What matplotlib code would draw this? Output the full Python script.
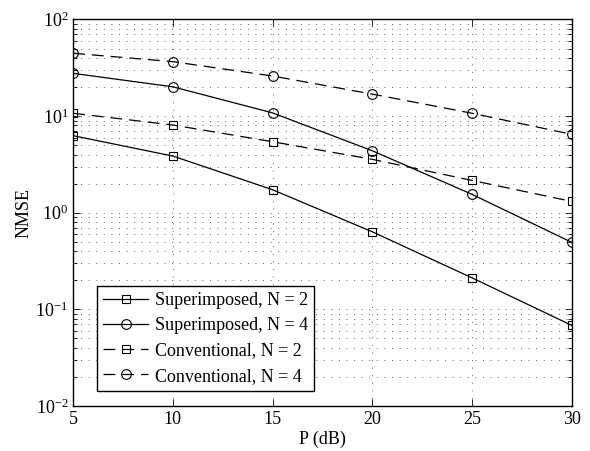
import matplotlib
matplotlib.use('Agg')
import matplotlib.pyplot as plt
import numpy as np

plt.rcParams['font.family'] = 'Liberation Serif'
plt.rcParams['mathtext.fontset'] = 'custom'
plt.rcParams['mathtext.rm'] = 'Liberation Serif'
plt.rcParams['mathtext.it'] = 'Liberation Serif:italic'

p_db = [5, 10, 15, 20, 25, 30]
sup_n2 = [6.27, 3.86, 1.73, 0.635, 0.212, 0.0683]
sup_n4 = [27.7, 20.1, 10.8, 4.38, 1.55, 0.494]
conv_n2 = [10.7, 8.09, 5.43, 3.57, 2.16, 1.31]
conv_n4 = [44.7, 36.6, 26.0, 16.9, 10.7, 6.48]

labels = ['Superimposed, N = 2', 'Superimposed, N = 4',
    'Conventional, N = 2', 'Conventional, N = 4']

fig = plt.figure(figsize=(5.9, 4.51), dpi=100)
ax = fig.add_axes([0.124, 0.0998, 0.845, 0.857])

dash = (0, (9.5, 5.5))
ax.semilogy(p_db, sup_n2, c='k', lw=0.9, marker='s', ms=6, mfc='none',
    mew=0.8, label=labels[0])
ax.semilogy(p_db, sup_n4, c='k', lw=0.9, marker='o', ms=7, mfc='none',
    mew=0.8, label=labels[1])
ax.semilogy(p_db, conv_n2, c='k', lw=0.9, ls=dash, marker='s', ms=6,
    mfc='none', mew=0.8, label=labels[2])
ax.semilogy(p_db, conv_n4, c='k', lw=0.9, ls=dash, marker='o', ms=7,
    mfc='none', mew=0.8, label=labels[3])

ax.set_xlim(5, 30)
ax.set_ylim(1e-2, 1e2)
ax.set_xticks(p_db)

grid_ls = (0, (1, 6.8))
ax.grid(which='major', axis='both', ls=grid_ls, lw=0.7, color='0.4')
ax.grid(which='minor', axis='y', ls=grid_ls, lw=0.7, color='0.4')

ax.tick_params(which='both', direction='in', top=True, right=True,
    labelsize=13)
ax.tick_params(which='major', length=5, width=0.6)
ax.tick_params(which='minor', length=3, width=0.6)
for sp in ax.spines.values():
    sp.set_linewidth(1.0)

ax.set_xlabel('P (dB)', fontsize=13, labelpad=2)
ax.set_ylabel('NMSE', fontsize=13, labelpad=2)

leg = ax.legend(loc='lower left', bbox_to_anchor=(0.048, 0.039), fontsize=13,
    frameon=True, fancybox=False, edgecolor='k', framealpha=1.0,
    handlelength=2.45, handletextpad=0.4, borderpad=0.35, labelspacing=0.45,
    borderaxespad=0.0)
leg.get_frame().set_linewidth(1.0)

fig.savefig('out.png', dpi=100, facecolor='w')
